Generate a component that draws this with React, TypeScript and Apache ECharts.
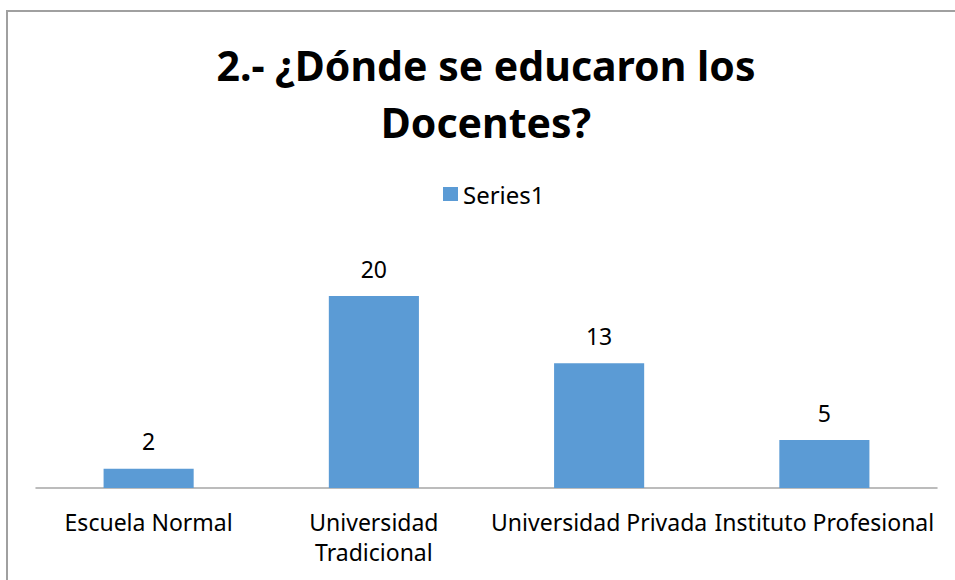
import React, { useEffect, useRef } from "react";
import * as echarts from "echarts";

const titleText = "2.- ¿Dónde se educaron los\nDocentes?";
const seriesName = "Series1";
const categories = [
  "Escuela Normal",
  "Universidad\nTradicional",
  "Universidad Privada",
  "Instituto Profesional",
];
const values = [2, 20, 13, 5];

const FONT = "'Noto Sans', 'Open Sans', sans-serif";

export default function App() {
  const ref = useRef<HTMLDivElement>(null);
  useEffect(() => {
    if (!ref.current) return;
    const chart = echarts.init(ref.current, undefined, { renderer: "svg" });
    chart.setOption({
      animation: false,
      backgroundColor: "#ffffff",
      textStyle: { fontFamily: FONT },
      title: {
        text: titleText,
        left: 486,
        top: 36,
        textAlign: "center",
        padding: 0,
        textStyle: {
          fontFamily: FONT,
          fontSize: 41,
          fontWeight: "bold",
          color: "#000000",
          lineHeight: 57,
        },
      },
      legend: {
        data: [seriesName],
        left: 443,
        top: 182,
        padding: 0,
        itemWidth: 15,
        itemHeight: 14,
        itemGap: 6,
        icon: "rect",
        textStyle: { fontFamily: FONT, fontSize: 24, color: "#000000", lineHeight: 24 },
      },
      grid: { left: 36, right: 18, top: 248, bottom: 92, containLabel: false },
      xAxis: {
        type: "category",
        data: categories,
        axisLine: { show: true, lineStyle: { color: "#a6a6a6", width: 1.5 } },
        axisTick: { show: false },
        axisLabel: {
          interval: 0,
          margin: 19,
          fontFamily: FONT,
          fontSize: 23,
          lineHeight: 30,
          color: "#000000",
        },
      },
      yAxis: {
        type: "value",
        min: 0,
        max: 25,
        interval: 5,
        show: false,
        splitLine: { show: false },
      },
      series: [
        {
          name: seriesName,
          type: "bar",
          data: values,
          barWidth: "40%",
          itemStyle: { color: "#5b9bd5" },
          label: {
            show: true,
            position: "top",
            distance: 16,
            fontFamily: FONT,
            fontSize: 23,
            color: "#000000",
          },
        },
      ],
      graphic: [
        {
          type: "rect",
          shape: { x: 7, y: 11, width: 960, height: 600 },
          style: { fill: "none", stroke: "#a0a0a0", lineWidth: 2 },
          silent: true,
          z: 100,
        },
      ],
    });
    return () => chart.dispose();
  }, []);
  return (
    <div
      ref={ref}
      style={{ position: "absolute", left: 0, top: 0, width: 955, height: 580 }}
    />
  );
}
